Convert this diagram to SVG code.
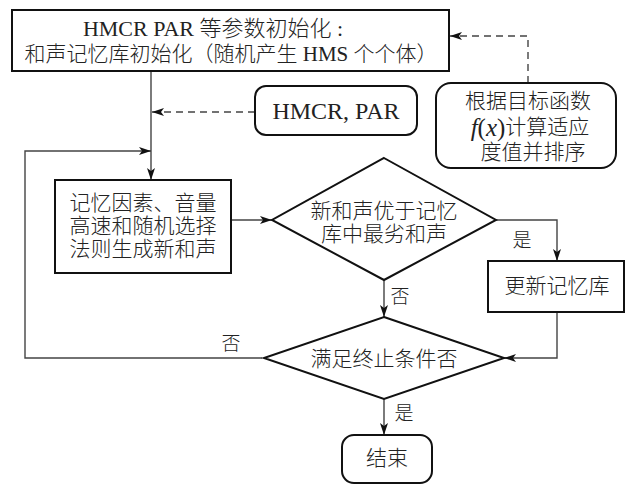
<svg xmlns="http://www.w3.org/2000/svg" width="627" height="486" viewBox="0 0 627 486">
<defs>
<marker id="ah" viewBox="0 0 12 8" refX="12" refY="4" markerWidth="12" markerHeight="8" markerUnits="userSpaceOnUse" orient="auto">
<path d="M0,0 L12,4 L0,8 L3,4 z" fill="#111"/>
</marker>
</defs>
<style>
.box{fill:#fff;stroke:#111;stroke-width:2}
.ln{fill:none;stroke:#444;stroke-width:1.4}
.dash{fill:none;stroke:#444;stroke-width:1.4;stroke-dasharray:7 5}
text{font-family:"Liberation Serif","Noto Sans CJK SC",serif;font-weight:300;fill:#222;text-anchor:middle;dominant-baseline:central}
.lat{font-weight:400}
.t{font-size:21px}
.l{font-size:19px}
</style>
<rect width="627" height="486" fill="#fff"/>
<g id="connectors">
<line class="ln" x1="151" y1="71" x2="151" y2="180" marker-end="url(#ah)"/>
<line class="dash" x1="255" y1="112" x2="152" y2="112" marker-end="url(#ah)"/>
<polyline class="dash" points="528,83 528,36 450,36" marker-end="url(#ah)"/>
<polyline class="ln" points="262,358 25,358 25,151 151,151" marker-end="url(#ah)"/>
<line class="ln" x1="231" y1="220" x2="272" y2="220" marker-end="url(#ah)"/>
<polyline class="ln" points="496,220 557,220 557,261" marker-end="url(#ah)"/>
<line class="ln" x1="384" y1="280" x2="384" y2="317" marker-end="url(#ah)"/>
<polyline class="ln" points="557,312 557,358 504,358" marker-end="url(#ah)"/>
<line class="ln" x1="384" y1="399" x2="384" y2="435" marker-end="url(#ah)"/>
<text class="l" x="522" y="240">是</text>
<text class="l" x="400" y="296">否</text>
<text class="l" x="231" y="343">否</text>
<text class="l" x="404" y="413">是</text>
</g>
<g id="init">
<rect class="box" x="12" y="10" width="437" height="61"/>
<text x="213" y="28" style="font-size:22px"><tspan class="lat">HMCR PAR </tspan>等参数初始化 :</text>
<text class="t" x="231" y="54">和声记忆库初始化（随机产生<tspan class="lat"> HMS </tspan>个个体）</text>
</g>
<g id="params">
<rect class="box" x="255" y="86" width="162" height="49" rx="11"/>
<text class="lat" x="336" y="111" style="font-size:24px">HMCR, PAR</text>
</g>
<g id="fitness">
<rect class="box" x="436" y="83" width="180" height="85" rx="15"/>
<text class="t" x="528" y="101">根据目标函数</text>
<text class="t" x="530" y="127"><tspan class="lat" font-style="italic" font-size="25">f</tspan><tspan class="lat" font-size="25">(</tspan><tspan class="lat" font-style="italic" font-size="25">x</tspan><tspan class="lat" font-size="25">)</tspan>计算适应</text>
<text class="t" x="533" y="152">度值并排序</text>
</g>
<g id="generate">
<rect class="box" x="55" y="180" width="176" height="93"/>
<text class="t" x="143" y="203">记忆因素、音量</text>
<text class="t" x="143" y="226">高速和随机选择</text>
<text class="t" x="143" y="249">法则生成新和声</text>
</g>
<g id="compare">
<polygon class="box" points="384,158 496,220 384,280 272,220"/>
<text class="t" x="384" y="211">新和声优于记忆</text>
<text class="t" x="384" y="234">库中最劣和声</text>
</g>
<g id="update">
<rect class="box" x="488" y="261" width="136" height="51"/>
<text class="t" x="557" y="286">更新记忆库</text>
</g>
<g id="terminate">
<polygon class="box" points="384,317 504,358 384,399 264,358"/>
<text class="t" x="384" y="359">满足终止条件否</text>
</g>
<g id="end">
<rect class="box" x="342" y="435" width="90" height="48" rx="12"/>
<text class="t" x="387" y="458">结束</text>
</g>
</svg>
